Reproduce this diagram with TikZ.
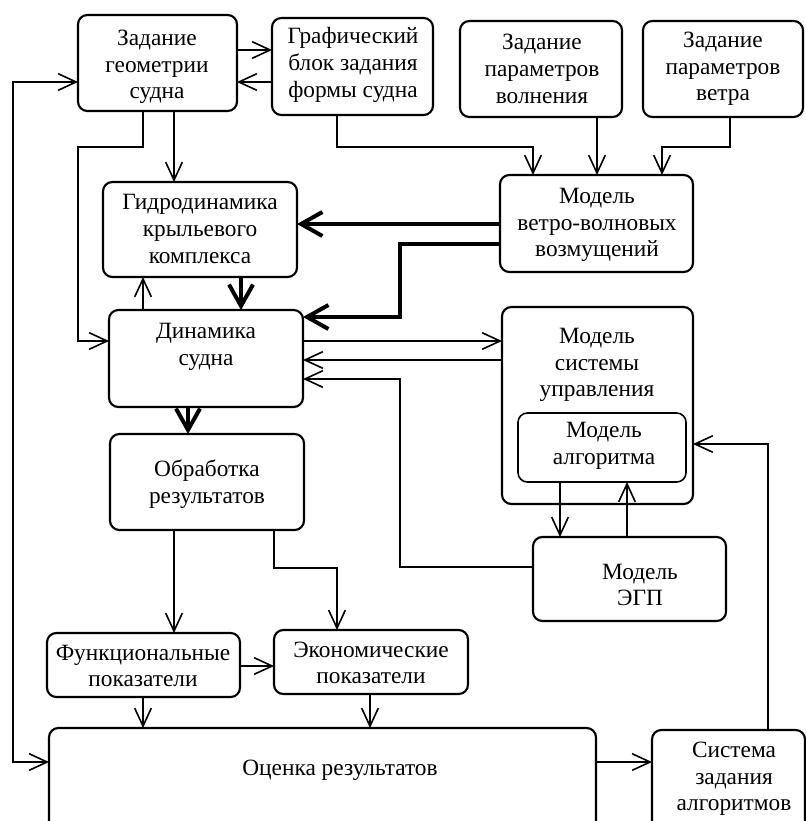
\documentclass[tikz,border=0pt]{standalone}
\usepackage{fontspec}
\setmainfont{Liberation Serif}
\usetikzlibrary{arrows.meta}
\tikzset{
 box/.style={draw, line width=1.6pt, rounded corners=7pt, inner sep=0pt, outer sep=0pt},
 ibox/.style={box, line width=1.2pt},
 txt/.style={align=center, font=\fontsize{17.5}{20}\selectfont, inner sep=0pt},
 conn/.style={line width=1.2pt, -{Straight Barb[length=13.5pt,width=12.5pt]}},
 dbl/.style={line width=1.2pt, {Straight Barb[length=13.5pt,width=12.5pt]}-{Straight Barb[length=13.5pt,width=12.5pt]}},
 thk/.style={line width=3pt, -{Straight Barb[length=16pt,width=18pt]}},
}
\newcommand\bx[6][box]{\node[#1, minimum width={(#5-#3)*0.75pt}, minimum height={(#6-#4)*0.75pt}] (#2) at ({(#3+#5)/2},{(#4+#6)/2}) {};}
\begin{document}
\begin{tikzpicture}[x=0.75pt,y=-0.75pt]
\path[use as bounding box, clip] (0,0) rectangle (806,821);
% boxes
\bx{zg}{78}{15}{237}{111}
\bx{gb}{272}{18}{433}{115}
\bx{zv}{460}{21}{622}{117}
\bx{zw}{643}{21}{803}{117}
\bx{mv}{500}{175}{693}{272}
\bx{gd}{103}{182}{297}{277}
\bx{dn}{109}{310}{303}{407}
\bx{ob}{110}{434}{304}{530}
\bx{ms}{502}{307}{693}{504}
\bx[ibox]{ma}{518}{413}{686}{482}
\bx{eg}{533}{537}{726}{621}
\bx{fp}{47}{633}{240}{697}
\bx{ep}{274}{630}{468}{694}
\bx{ot}{49}{728}{596}{845}
\bx{sz}{652}{730}{805}{845}
% texts
\node[txt] (zg-t) at (157,67) {Задание\\геометрии\\судна};
\node[txt] (gb-t) at (353,65) {Графический\\блок задания\\формы судна};
\node[txt] (zv-t) at (542,69) {Задание\\параметров\\волнения};
\node[txt] (zw-t) at (723,69) {Задание\\параметров\\ветра};
\node[txt] (mv-t) at (597,225) {Модель\\ветро-волновых\\возмущений};
\node[txt] (gd-t) at (200,229) {Гидродинамика\\крыльевого\\комплекса};
\node[txt] (dn-t) at (206,347) {Динамика\\судна};
\node[txt] (ob-t) at (207,484) {Обработка\\результатов};
\node[txt] (ms-t) at (597,365) {Модель\\системы\\управления};
\node[txt] (ma-t) at (604,446) {Модель\\алгоритма};
\node[txt] (eg-t) at (640,585) {Модель\\ЭГП};
\node[txt] (fp-t) at (143,666) {Функциональные\\показатели};
\node[txt] (ep-t) at (371,663) {Экономические\\показатели};
\node[txt] (ot-t) at (340,770) {Оценка результатов};
\node[txt] (sz-t) at (734,779) {Система\\задания\\алгоритмов};
% connectors
\draw[conn] (zg.east |- 0,50) -- (gb.west |- 0,50);
\draw[conn] (gb.west |- 0,82) -- (zg.east |- 0,82);
\draw[dbl] (zg.west |- 0,82) -- (13,82) -- (13,762) -- (ot.west |- 0,762);
\draw[conn] (zg.south -| 143,0) -- (143,147) -- (78,147) -- (78,341) -- (dn.west |- 0,341);
\draw[conn] (zg.south -| 174,0) -- (gd.north -| 174,0);
\draw[conn] (gb.south -| 337,0) -- (337,147) -- (533,147) -- (mv.north -| 533,0);
\draw[conn] (zv.south -| 597,0) -- (mv.north -| 597,0);
\draw[conn] (zw.south -| 730,0) -- (730,147) -- (662,147) -- (mv.north -| 662,0);
\draw[thk] (mv.west |- 0,224) -- (gd.east |- 0,224);
\draw[thk] (mv.west |- 0,244) -- (400,244) -- (400,317) -- (dn.east |- 0,317);
\draw[thk] (gd.south -| 241,0) -- (dn.north -| 241,0);
\draw[conn] (dn.north -| 143,0) -- (gd.south -| 143,0);
\draw[conn] (dn.east |- 0,341) -- (ms.west |- 0,341);
\draw[conn] (ms.west |- 0,360) -- (dn.east |- 0,360);
\draw[conn] (eg.west |- 0,567) -- (400,567) -- (400,379) -- (dn.east |- 0,379);
\draw[thk] (dn.south -| 188,0) -- (ob.north -| 188,0);
\draw[conn] (ma.south -| 560,0) -- (eg.north -| 560,0);
\draw[conn] (eg.north -| 627,0) -- (ma.south -| 627,0);
\draw[conn] (sz.north -| 768,0) -- (768,444) -- (ms.east |- 0,444);
\draw[conn] (ob.south -| 174,0) -- (fp.north -| 174,0);
\draw[conn] (ob.south -| 274,0) -- (274,568) -- (337,568) -- (ep.north -| 337,0);
\draw[conn] (fp.east |- 0,666) -- (ep.west |- 0,666);
\draw[conn] (fp.south -| 143,0) -- (ot.north -| 143,0);
\draw[conn] (ep.south -| 370,0) -- (ot.north -| 370,0);
\draw[conn] (ot.east |- 0,762) -- (sz.west |- 0,762);
\end{tikzpicture}
\end{document}
